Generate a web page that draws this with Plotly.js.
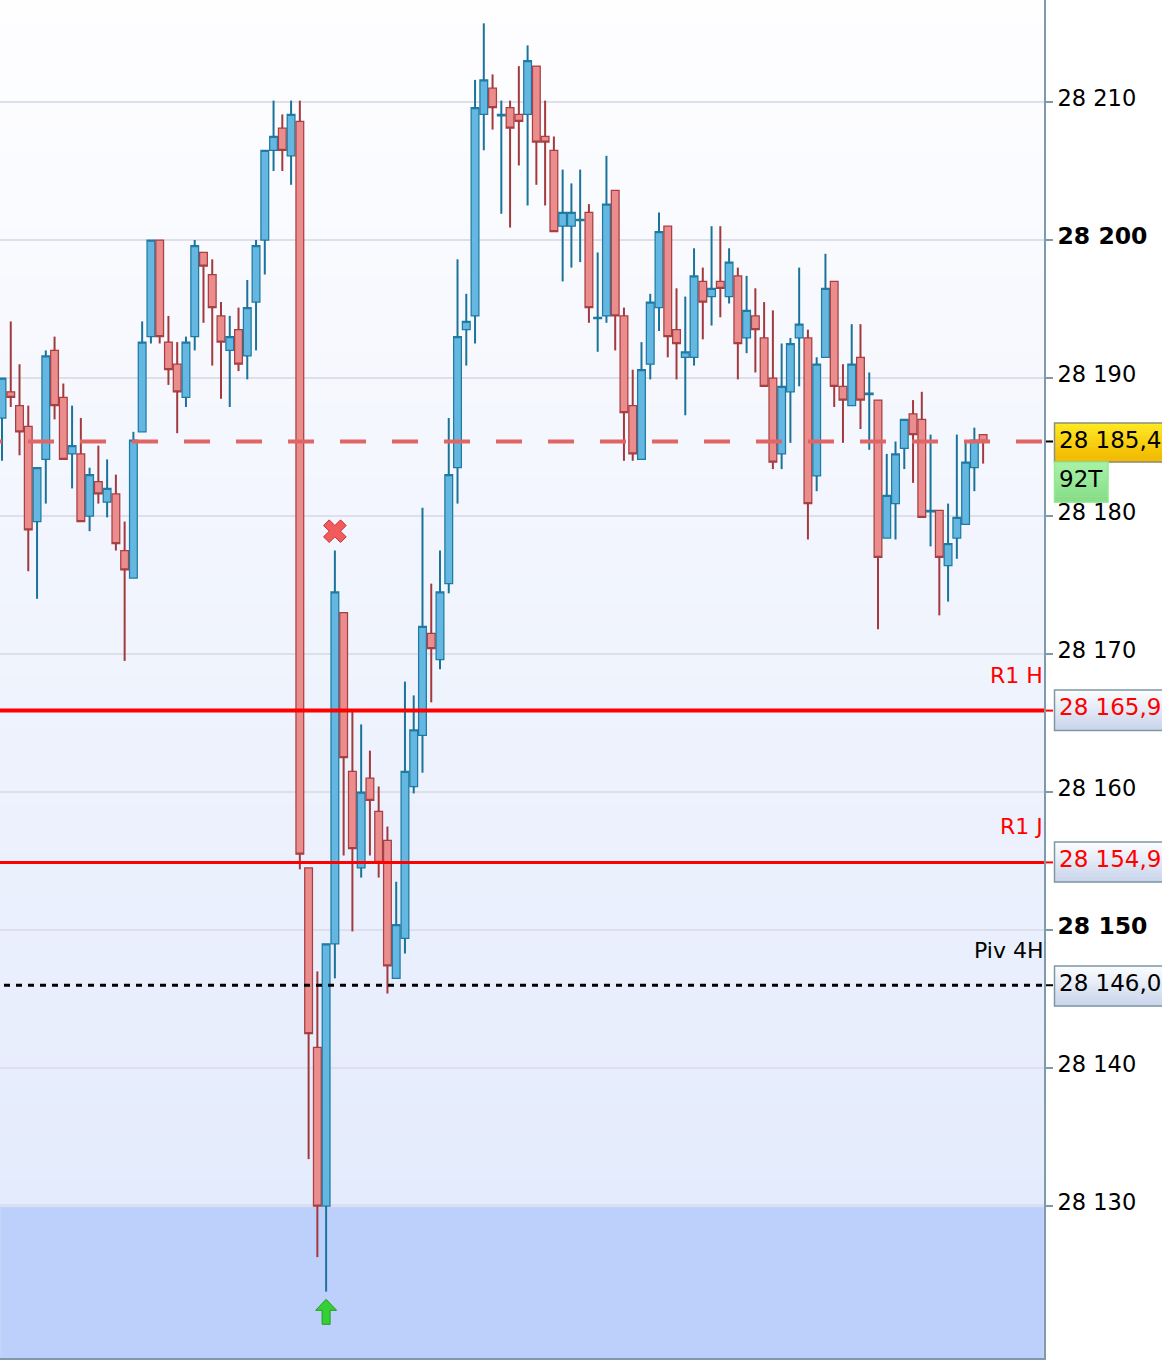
<!DOCTYPE html>
<html><head><meta charset="utf-8">
<script src="https://cdn.plot.ly/plotly-3.0.1.min.js"></script>
<style>html,body{margin:0;padding:0;background:#fff}#chart{width:1162px;height:1360px}</style>
</head><body><div id="chart"></div>
<script>
var candleIndex = [];
for (var n = 0; n < 113; n++) candleIndex.push(n);
var opens = [28187.1,28189.0,28188.0,28186.5,28179.6,28184.1,28192.0,28188.6,28184.5,28184.5,
28180.0,28182.5,28181.0,28181.6,28177.5,28175.5,28186.1,28193.0,28200.0,28192.6,
28191.0,28188.6,28193.0,28199.1,28197.5,28194.5,28192.0,28193.5,28191.6,28195.5,
28200.0,28206.5,28208.1,28206.1,28208.6,28154.5,28141.5,28130.0,28149.0,28173.0,
28161.5,28154.5,28161.0,28158.6,28156.5,28146.5,28149.4,28160.4,28164.1,28171.5,
28169.6,28175.1,28183.5,28193.5,28194.5,28209.1,28211.0,28209.0,28209.6,28209.1,
28209.1,28212.6,28207.5,28206.5,28201.0,28201.0,28201.4,28202.0,28194.3,28194.5,
28203.6,28194.5,28188.0,28184.1,28191.0,28195.1,28201.0,28193.5,28191.5,28191.5,
28197.0,28195.9,28197.0,28195.9,28197.4,28192.9,28194.5,28192.9,28190.0,28184.5,
28189.0,28192.9,28192.9,28182.9,28191.5,28197.0,28189.4,28188.0,28191.5,28188.8,
28188.4,28178.4,28180.9,28184.9,28187.4,28187.0,28180.3,28180.4,28176.4,28178.4,
28179.4,28183.5,28185.9];
var highs = [28190.0,28194.1,28191.0,28188.0,28183.5,28192.0,28193.0,28189.6,28188.0,28187.1,
28183.5,28185.1,28184.1,28183.0,28179.6,28186.1,28194.1,28200.0,28200.0,28194.5,
28192.6,28193.0,28200.0,28199.1,28198.6,28195.5,28194.5,28195.1,28197.1,28200.0,
28206.5,28210.1,28209.1,28210.1,28210.1,28154.5,28147.0,28149.0,28177.5,28173.0,
28165.9,28164.9,28163.0,28160.4,28157.5,28153.5,28168.0,28167.0,28180.6,28175.1,
28177.5,28187.1,28198.6,28196.1,28211.6,28215.7,28212.0,28210.1,28210.1,28212.6,
28214.1,28212.6,28210.1,28207.5,28205.1,28204.1,28205.1,28202.6,28199.1,28206.1,
28203.6,28195.1,28190.6,28192.6,28196.1,28202.0,28201.0,28196.5,28195.9,28199.4,
28198.0,28201.0,28201.0,28199.4,28198.0,28197.4,28196.5,28195.5,28194.9,28192.5,
28192.9,28198.0,28193.5,28191.5,28199.0,28197.0,28191.0,28193.9,28193.9,28190.4,
28188.4,28184.5,28185.4,28187.0,28188.4,28189.0,28185.9,28180.4,28180.9,28185.9,
28185.5,28186.4,28185.9];
var lows = [28184.0,28187.9,28184.4,28176.0,28174.0,28180.9,28187.0,28184.1,28182.0,28179.6,
28178.9,28180.9,28179.9,28177.5,28169.5,28175.5,28186.1,28192.5,28192.5,28189.5,
28186.0,28187.9,28192.0,28194.0,28190.9,28188.5,28187.9,28190.5,28189.9,28192.0,
28197.5,28205.0,28205.0,28204.0,28154.4,28133.4,28126.3,28123.8,28146.5,28155.4,
28149.9,28153.8,28155.4,28153.8,28145.4,28146.5,28148.3,28159.9,28161.4,28166.5,
28168.9,28174.4,28180.9,28190.9,28192.5,28206.5,28208.0,28201.9,28200.9,28205.4,
28202.5,28204.0,28202.5,28200.6,28197.0,28198.0,28198.4,28194.0,28191.9,28194.0,
28192.0,28184.0,28184.0,28184.1,28189.9,28193.4,28191.5,28189.9,28187.3,28190.9,
28192.8,28193.8,28194.4,28195.4,28189.9,28191.8,28190.4,28189.4,28183.4,28183.4,
28185.3,28189.4,28178.3,28181.8,28191.5,28187.9,28185.3,28188.0,28186.3,28184.8,
28171.8,28178.4,28178.3,28183.4,28182.4,28179.9,28177.8,28172.8,28173.8,28176.9,
28179.4,28181.8,28183.8];
var closes = [28190.0,28188.6,28186.1,28179.0,28183.5,28191.6,28188.0,28184.1,28185.1,28179.6,
28183.0,28181.6,28182.0,28178.0,28176.1,28185.5,28192.6,28200.0,28193.0,28190.6,
28189.0,28192.6,28199.6,28198.1,28195.1,28192.6,28193.0,28191.0,28195.1,28199.6,
28206.5,28207.5,28206.5,28209.1,28155.5,28142.5,28130.0,28149.0,28174.5,28162.5,
28155.9,28160.0,28159.4,28154.9,28147.4,28150.4,28161.5,28164.5,28172.0,28170.4,
28174.5,28183.0,28193.0,28194.1,28209.6,28211.6,28209.6,28209.1,28208.1,28208.6,
28213.0,28207.1,28207.1,28200.6,28202.0,28202.0,28201.5,28195.1,28194.4,28202.6,
28194.5,28187.5,28184.5,28190.6,28195.5,28200.6,28193.0,28192.5,28191.9,28197.4,
28195.5,28196.5,28196.5,28198.4,28192.5,28194.9,28193.5,28189.4,28183.9,28189.4,
28192.5,28193.9,28180.9,28191.0,28196.5,28189.4,28188.4,28191.0,28188.4,28188.9,
28177.0,28181.5,28184.5,28187.0,28185.9,28179.9,28180.4,28177.0,28178.0,28179.9,
28183.9,28185.5,28185.4];

var tickValues = [28130,28140,28150,28160,28170,28180,28190,28200,28210];
var tickLabels = ['28 130','28 140','<span style="font-size:23.5px"><b>28 150</b></span>','28 160','28 170','28 180','28 190','<span style="font-size:23.5px"><b>28 200</b></span>','28 210'];

var currentPrice = 28185.4, r1H = 28165.9, r1J = 28154.9, piv4H = 28146.0, zoneTop = 28130;
var majorGrid = [28150, 28200];
var exitIndex = 38, exitPrice = 28178.9, entryIndex = 37, entryPrice = 28122.3;

var PW = 1044, PH = 1358;
function xp(px){ return px / PW; }
function yp(px){ return 1 - px / PH; }
function hex(c){ return '#' + c.map(function(v){ var s = Math.round(v).toString(16); return s.length < 2 ? '0' + s : s; }).join(''); }
function mix(a,b,t){ return [a[0]+(b[0]-a[0])*t, a[1]+(b[1]-a[1])*t, a[2]+(b[2]-a[2])*t]; }

var shapes = [];
function bands(x0,y0,x1,y1,c0,c1,count,layer){
  for (var k = 0; k < count; k++){
    shapes.push({type:'rect',xref:'paper',yref:'paper',layer:layer,
      x0:xp(x0),x1:xp(x1),y0:yp(y0+(y1-y0)*k/count),y1:yp(y0+(y1-y0)*(k+1)/count+0.5),
      fillcolor:hex(mix(c0,c1,(k+0.5)/count)),line:{width:0}});
  }
}
function box(x0,y0,x1,y1,c0,c1,border){
  bands(x0,y0,x1,y1,c0,c1,14,'above');
  shapes.push({type:'rect',xref:'paper',yref:'paper',layer:'above',x0:xp(x0),x1:xp(x1),y0:yp(y0),y1:yp(y1),
    fillcolor:'rgba(0,0,0,0)',line:{color:border,width:1.5}});
}
// background
bands(0,0,PW,1205,[254,254,255],[228,235,252],48,'below');
shapes.push({type:'rect',xref:'paper',yref:'y',layer:'below',x0:0,x1:1,y0:28100,y1:zoneTop,fillcolor:'#BDD0FC',line:{color:'#C3D4F8',width:3}});
majorGrid.forEach(function(v){
  shapes.push({type:'line',xref:'paper',yref:'y',layer:'between',x0:0,x1:1,y0:v,y1:v,line:{color:'#BFC5D9',width:2}});
});
// levels
shapes.push({type:'line',xref:'paper',yref:'y',layer:'above',x0:xp(-24),x1:xp(1043),y0:currentPrice,y1:currentPrice,line:{color:'#E06666',width:4,dash:'26px,26px'}});
shapes.push({type:'line',xref:'paper',yref:'y',layer:'above',x0:0,x1:xp(1044),y0:r1H,y1:r1H,line:{color:'#FF0000',width:4}});
shapes.push({type:'line',xref:'paper',yref:'y',layer:'above',x0:0,x1:xp(1044),y0:r1J,y1:r1J,line:{color:'#FF0000',width:3}});
shapes.push({type:'line',xref:'paper',yref:'y',layer:'above',x0:xp(4),x1:xp(1044),y0:piv4H,y1:piv4H,line:{color:'#000000',width:3,dash:'6px,6px'}});
[[currentPrice,'#000000'],[r1H,'#FF0000'],[r1J,'#FF0000'],[piv4H,'#000000']].forEach(function(t){
  shapes.push({type:'line',xref:'paper',yref:'y',layer:'above',x0:xp(1046),x1:xp(1053),y0:t[0],y1:t[0],line:{color:t[1],width:2}});
});
// arrow
shapes.push({type:'path',xsizemode:'pixel',ysizemode:'pixel',xref:'x',yref:'y',xanchor:entryIndex,yanchor:entryPrice,layer:'above',
  path:'M0,13 L10.5,2 L4,2 L4,-12 L-4,-12 L-4,2 L-10.5,2 Z',fillcolor:'#35D035',line:{color:'#1E9E1E',width:1}});
// value boxes
box(1054.5,423,1163,462,[255,234,32],[240,182,0],'#8A8F80');
box(1054.5,462,1108,502,[168,242,168],[132,220,132],'#93E893');
box(1054.5,690,1163,730.5,[252,253,255],[200,212,235],'#7F96A3');
box(1054.5,842,1163,882,[252,253,255],[200,212,235],'#7F96A3');
box(1054.5,966,1163,1006,[252,253,255],[200,212,235],'#7F96A3');

function note(text,px,py,anchor,color,size){
  return {text:text,xref:'paper',yref:'paper',x:xp(px),y:yp(py),xanchor:anchor,yanchor:'middle',showarrow:false,
    font:{family:'DejaVu Sans',size:size,color:color},borderpad:0,borderwidth:0};
}
var annotations = [
  note('28 185,4',1059,440,'left','#000000',23),
  note('92T',1059,479,'left','#000000',23),
  note('28 165,9',1059,707,'left','#FF0000',23),
  note('28 154,9',1059,859,'left','#FF0000',23),
  note('28 146,0',1059,983,'left','#000000',23),
  note('R1 H',1043,675,'right','#FF0000',22),
  note('R1 J',1043,827,'right','#FF0000',22),
  note('Piv 4H',1043,951,'right','#000000',22)
];

// whiskers drawn from the same OHLC values, bodies as candlesticks
function wicks(isUp, color){
  var xs = [], ys = [];
  candleIndex.forEach(function(i){
    if ((closes[i] > opens[i]) !== isUp) return;
    var top = Math.max(opens[i], closes[i]), bottom = Math.min(opens[i], closes[i]);
    if (highs[i] > top) { xs.push(i, i, null); ys.push(highs[i], top, null); }
    if (lows[i] < bottom) { xs.push(i, i, null); ys.push(bottom, lows[i], null); }
  });
  return {type:'scatter',mode:'lines',x:xs,y:ys,hoverinfo:'skip',line:{color:color,width:2},connectgaps:false};
}
var traces = [
  wicks(true,'#1B739A'),
  wicks(false,'#A23A3D'),
{
  type:'candlestick',x:candleIndex,open:opens,close:closes,
  high:candleIndex.map(function(i){ return Math.max(opens[i], closes[i]); }),
  low:candleIndex.map(function(i){ return Math.min(opens[i], closes[i]); }),
  whiskerwidth:0,hoverinfo:'skip',
  increasing:{line:{color:'#1F7BA3',width:1.25},fillcolor:'#64B7E0'},
  decreasing:{line:{color:'#A83F42',width:1.25},fillcolor:'#EB8D8D'}
},{
  type:'scatter',mode:'markers',x:[exitIndex],y:[exitPrice],hoverinfo:'skip',
  marker:{symbol:'x',size:20,color:'#F15B5B',line:{color:'#C93333',width:1}}
}];

var layout = {
  width:1162,height:1360,margin:{l:0,r:118,t:0,b:2,pad:0},
  paper_bgcolor:'#FFFFFF',plot_bgcolor:'rgba(0,0,0,0)',showlegend:false,
  boxgap:0.115,boxgroupgap:0,dragmode:false,
  font:{family:'DejaVu Sans',color:'#000000',size:22.5},
  xaxis:{range:[-0.228,118.95],showgrid:false,zeroline:false,showticklabels:false,ticks:'',
    rangeslider:{visible:false},showline:true,linecolor:'#7E9AAB',linewidth:2,fixedrange:true},
  yaxis:{range:[28118.99,28217.39],side:'right',tickmode:'array',tickvals:tickValues,ticktext:tickLabels,
    showgrid:true,gridcolor:'#DDE0EC',gridwidth:2,zeroline:false,showline:true,linecolor:'#7E9AAB',linewidth:2,
    ticks:'outside',ticklen:7,tickwidth:2,tickcolor:'#7E9AAB',ticklabelstandoff:0,ticklabelshift:-4,
    tickfont:{family:'DejaVu Sans',size:22.5,color:'#000000'},fixedrange:true},
  shapes:shapes,annotations:annotations
};
Plotly.newPlot('chart',traces,layout,{displayModeBar:false,staticPlot:true});
</script></body></html>
